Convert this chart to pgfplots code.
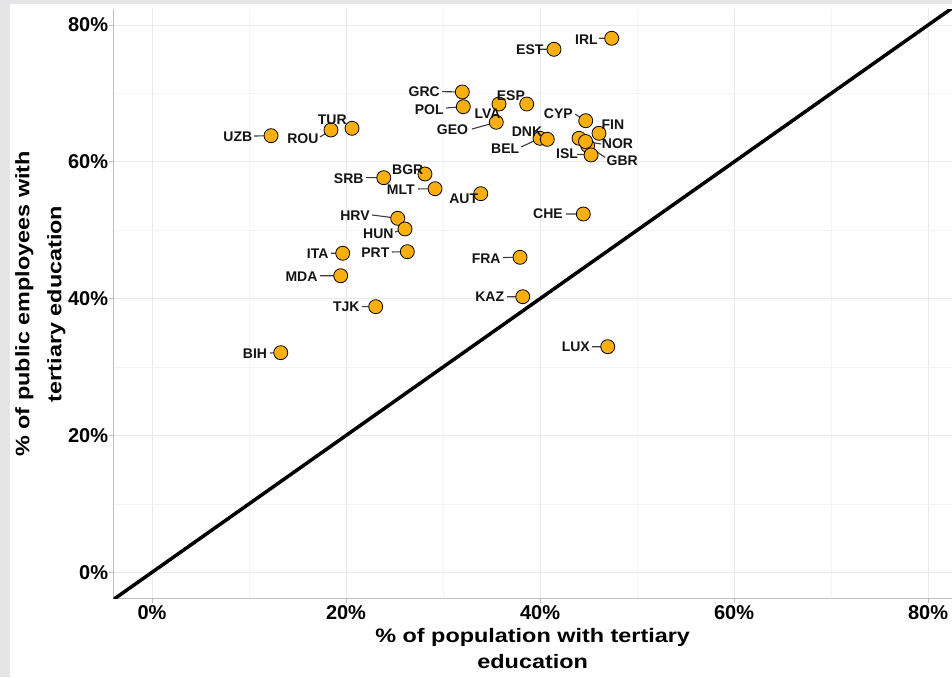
\documentclass[border=0pt]{standalone}
\usepackage{fontspec}
\setmainfont{Liberation Sans}
\newfontfamily\titlefont{Liberation Sans}[FakeStretch=1.2]
\usepackage{pgfplots}
\pgfplotsset{compat=1.18}
\usepackage{pgfplotstable}
\definecolor{ptfill}{RGB}{250,175,15}
\definecolor{framegray}{RGB}{229,229,231}
\definecolor{axisgray}{RGB}{190,190,190}
\definecolor{gridmaj}{RGB}{234,234,234}
\definecolor{gridmin}{RGB}{244,244,244}
\definecolor{leadgray}{RGB}{60,60,60}
\definecolor{labtext}{RGB}{20,20,20}

% points: % of population with tertiary education (x), % of public employees (y)
\pgfplotstableread{
x y
33.89 55.35
40.00 63.45
28.14 58.23
13.27 32.11
44.46 52.38
44.71 66.02
40.75 63.30
38.63 68.46
41.44 76.46
46.08 64.18
37.94 46.05
44.90 62.40
35.49 65.79
31.99 70.22
25.33 51.75
26.08 50.19
47.39 78.07
45.26 61.01
19.66 46.64
38.22 40.29
46.98 32.98
35.77 68.46
19.45 43.36
29.18 56.08
44.02 63.45
44.69 62.98
32.09 68.07
26.32 46.87
18.45 64.66
23.89 57.69
23.06 38.83
20.62 64.91
12.27 63.83
}\pointdata

\pgfplotstableread{
x y lab
44.79 77.92 IRL
38.95 76.46 EST
28.06 70.27 GRC
28.58 67.69 POL
34.59 67.10 LVA
36.99 69.63 ESP
30.98 64.66 GEO
36.41 61.99 BEL
38.66 64.42 DNK
41.89 67.10 CYP
47.51 65.50 FIN
47.99 62.72 NOR
48.48 60.18 GBR
42.78 61.26 ISL
8.85 63.68 UZB
15.55 63.35 ROU
18.58 66.13 TUR
20.28 57.50 SRB
26.36 58.92 BGR
25.65 55.99 MLT
32.13 54.58 AUT
40.82 52.38 CHE
20.93 52.09 HRV
23.33 49.56 HUN
17.08 46.58 ITA
23.02 46.73 PRT
15.41 43.27 MDA
20.03 38.83 TJK
34.45 45.91 FRA
34.81 40.29 KAZ
10.62 32.02 BIH
43.69 32.98 LUX
}\labdata

\pgfplotstableread{
x y
46.08 78.07
47.39 78.07
nan nan
39.90 76.46
41.44 76.46
nan nan
29.90 70.27
31.99 70.22
nan nan
30.31 67.88
32.09 68.07
nan nan
32.99 64.81
35.49 65.79
nan nan
38.04 62.18
40.00 63.45
nan nan
43.61 66.99
44.71 66.02
nan nan
46.29 62.62
44.69 62.98
nan nan
46.70 60.66
44.90 62.40
nan nan
43.81 61.11
45.26 61.01
nan nan
10.52 63.78
12.27 63.83
nan nan
17.32 63.64
18.45 64.66
nan nan
22.06 57.69
23.89 57.69
nan nan
27.42 56.04
29.18 56.08
nan nan
42.68 52.38
44.46 52.38
nan nan
22.68 52.24
25.33 51.75
nan nan
25.05 49.75
26.08 50.19
nan nan
18.45 46.64
19.66 46.64
nan nan
24.74 46.83
26.32 46.87
nan nan
17.32 43.36
19.45 43.36
nan nan
21.65 38.83
23.06 38.83
nan nan
36.19 46.02
37.94 46.05
nan nan
36.60 40.29
38.22 40.29
nan nan
12.16 32.06
13.27 32.11
nan nan
45.36 32.98
46.98 32.98
}\leaderdata

\begin{document}
\begin{tikzpicture}[x=1pt,y=1pt]
\fill[framegray] (0,0) rectangle (952,-677);
\fill[white] (10,-4) rectangle (952,-677);
\useasboundingbox (0,0) rectangle (952,-677);
\begin{axis}[
  at={(113.3pt,-598.7pt)}, anchor=south west,
  scale only axis, width=838.7pt, height=589.7pt,
  xmin=-3.99, xmax=82.47, ymin=-3.86, ymax=82.35,
  axis lines*=left,
  axis line style={axisgray, line width=1.5pt},
  xtick={0,20,40,60,80}, xticklabels={0\%,20\%,40\%,60\%,80\%},
  ytick={0,20,40,60,80}, yticklabels={0\%,20\%,40\%,60\%,80\%},
  minor xtick={10,30,50,70}, minor ytick={10,30,50,70},
  grid=both,
  major grid style={gridmaj, line width=1pt},
  minor grid style={gridmin, line width=0.8pt},
  tick align=outside, major tick length=4pt, minor tick length=0pt,
  tick style={axisgray, line width=1pt},
  ticklabel style={font=\fontsize{20}{24}\selectfont\bfseries, inner sep=0pt, text=black},
  xticklabel style={anchor=north, yshift=-3pt},
  yticklabel style={anchor=east, xshift=-1pt},
  xlabel={\% of population with tertiary\\education},
  ylabel={\% of public employees with\\tertiary education},
  xlabel style={at={(axis description cs:0.5,-0.0500)}, anchor=north, align=center,
    inner sep=0pt, font=\titlefont\fontsize{19.5}{26}\selectfont\bfseries},
  ylabel style={at={(axis description cs:-0.1172,0.5)}, anchor=north, align=center,
    inner sep=0pt, font=\titlefont\fontsize{19.5}{32}\selectfont\bfseries},
  clip=true,
]
\addplot[black, line width=3.5pt] coordinates {(-10,-10) (90,90)};
\addplot[leadgray, line width=1.1pt, unbounded coords=jump] table {\leaderdata};
\addplot[only marks, mark=*, mark size=7pt,
  mark options={fill=ptfill, draw=black, line width=0.8pt}] table {\pointdata};
\addplot[draw=none, mark=none, nodes near coords, point meta=explicit symbolic,
  every node near coord/.append style={anchor=center, inner sep=0pt, text=labtext,
    font=\fontsize{14}{16}\selectfont\bfseries}] table[meta=lab] {\labdata};
\end{axis}
\end{tikzpicture}
\end{document}
